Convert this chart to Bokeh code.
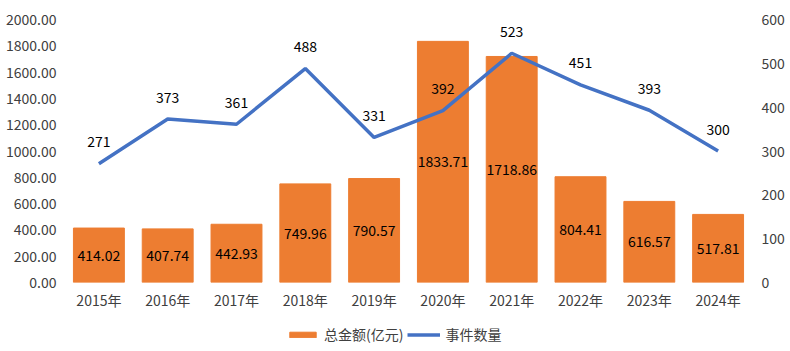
from bokeh.plotting import figure
from bokeh.layouts import column
from bokeh.models import (Range1d, LinearAxis, FixedTicker, NumeralTickFormatter,
                          ColumnDataSource, LabelSet, Legend, LegendItem, FactorRange)
from bokeh.core.properties import value
from bokeh.embed import file_html
from bokeh.resources import INLINE

years = ["2015年", "2016年", "2017年", "2018年", "2019年", "2020年", "2021年", "2022年", "2023年", "2024年"]
amounts = [414.02, 407.74, 442.93, 749.96, 790.57, 1833.71, 1718.86, 804.41, 616.57, 517.81]
counts = [271, 373, 361, 488, 331, 392, 523, 451, 393, 300]
series_names = ["总金额(亿元)", "事件数量"]

FONT = "Noto Sans CJK SC"
FS = "14px"
BAR_C = "#ED7D31"
LINE_C = "#4472C4"
TXT_C = "#404040"

src = ColumnDataSource(dict(
    x=years, amt=amounts, amt_half=[a / 2 for a in amounts],
    amt_lbl=[f"{a:.2f}" for a in amounts],
    cnt=counts, cnt_lbl=[str(c) for c in counts],
))

p = figure(width=790, height=312, x_range=FactorRange(*years, range_padding=0),
           y_range=Range1d(0, 2000), output_backend="svg", toolbar_location=None,
           min_border_left=64, min_border_right=38, min_border_top=19, min_border_bottom=30)
p.extra_y_ranges = {"r": Range1d(0, 600)}
p.outline_line_color = None
p.xgrid.grid_line_color = None
p.ygrid.grid_line_color = None
p.background_fill_color = "white"
p.border_fill_color = "white"

bars = p.vbar(x="x", top="amt", width=0.74, color=BAR_C, source=src)
line = p.line(x="x", y="cnt", y_range_name="r", line_color=LINE_C, line_width=3.5, source=src)

ax_r = LinearAxis(y_range_name="r")
p.add_layout(ax_r, "right")

for ax in [p.yaxis[0], ax_r]:
    ax.axis_line_color = None
    ax.major_tick_line_color = None
    ax.minor_tick_line_color = None
    ax.major_tick_out = 0
    ax.major_label_text_font = FONT
    ax.major_label_text_font_size = FS
    ax.major_label_text_color = TXT_C
p.yaxis[0].ticker = FixedTicker(ticks=list(range(0, 2001, 200)))
p.yaxis[0].formatter = NumeralTickFormatter(format="0.00")
p.yaxis[0].major_label_standoff = 8
ax_r.ticker = FixedTicker(ticks=list(range(0, 601, 100)))
ax_r.major_label_standoff = 9

xa = p.xaxis[0]
xa.axis_line_color = None
xa.major_tick_line_color = None
xa.major_tick_out = 0
xa.major_label_text_font = FONT
xa.major_label_text_font_size = FS
xa.major_label_text_color = TXT_C
xa.major_label_standoff = 7

bar_labels = LabelSet(x="x", y="amt_half", text="amt_lbl", source=src,
                      text_align="center", text_baseline="middle",
                      text_font=value(FONT), text_font_size=value(FS), text_color="#000000")
line_labels = LabelSet(x="x", y="cnt", text="cnt_lbl", source=src, y_range_name="r",
                       y_offset=22, text_align="center", text_baseline="middle",
                       text_font=value(FONT), text_font_size=value(FS), text_color="#000000")
p.add_layout(bar_labels)
p.add_layout(line_labels)

# legend strip below the chart (its renderers share the data but sit outside its view)
lg = figure(width=790, height=39, x_range=FactorRange(*years, range_padding=0),
            y_range=Range1d(5000, 5001), x_axis_location=None, y_axis_location=None,
            output_backend="svg", toolbar_location=None,
            min_border=0, min_border_left=0, min_border_right=0,
            min_border_top=0, min_border_bottom=0)
lg.grid.visible = False
lg.outline_line_color = None
lg.border_fill_color = "white"
lr_bar = lg.vbar(x="x", top="amt", width=0.74, color=BAR_C, source=src)
lr_line = lg.line(x="x", y="cnt", line_color=LINE_C, line_width=3.5, source=src)
legend = Legend(items=[LegendItem(label=series_names[0], renderers=[lr_bar]),
                       LegendItem(label=series_names[1], renderers=[lr_line])],
                orientation="horizontal", location=(222, 7),
                label_text_font=FONT, label_text_font_size=FS, label_text_color=TXT_C,
                glyph_width=33, glyph_height=7, label_standoff=5, spacing=4,
                border_line_color=None, background_fill_alpha=0, padding=2, margin=0)
lg.add_layout(legend, "center")

layout = column(p, lg, spacing=0)
open("out.html", "w").write(file_html(layout, INLINE))
